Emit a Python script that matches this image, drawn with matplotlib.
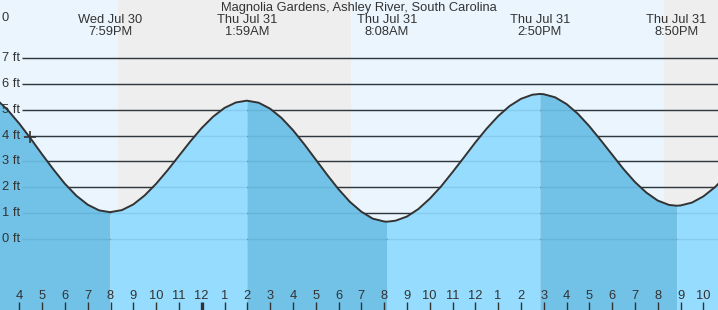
import numpy as np
import matplotlib
matplotlib.use("Agg")
from matplotlib import pyplot as plt
from matplotlib import transforms

# hours counted from midnight at the start of Wed Jul 30
hours = [15.0, 15.5, 16.0, 16.5, 17.0, 17.5, 18.0, 18.5, 19.0, 19.5, 19.98,
         20.5, 21.0, 21.5, 22.0, 22.5, 23.0, 23.5, 24.0, 24.5, 25.0, 25.5, 25.98,
         26.5, 27.0, 27.5, 28.0, 28.5, 29.0, 29.5, 30.0, 30.5, 31.0, 31.5, 32.0, 32.13,
         32.5, 33.0, 33.5, 34.0, 34.5, 35.0, 35.5, 36.0, 36.5, 37.0, 37.5, 38.0, 38.5, 38.83,
         39.0, 39.5, 40.0, 40.5, 41.0, 41.5, 42.0, 42.5, 43.0, 43.5, 44.0, 44.5, 44.83,
         45.0, 45.5, 46.0, 46.5, 47.0]
feet = [5.40, 4.98, 4.46, 3.88, 3.27, 2.68, 2.13, 1.67, 1.32, 1.10, 1.03,
        1.11, 1.33, 1.68, 2.13, 2.65, 3.21, 3.77, 4.29, 4.73, 5.07, 5.28, 5.35,
        5.27, 5.04, 4.68, 4.21, 3.66, 3.07, 2.48, 1.92, 1.43, 1.05, 0.78, 0.67, 0.66,
        0.70, 0.86, 1.15, 1.55, 2.03, 2.58, 3.15, 3.73, 4.27, 4.75, 5.14, 5.42, 5.58, 5.61,
        5.60, 5.48, 5.22, 4.84, 4.36, 3.82, 3.26, 2.70, 2.20, 1.79, 1.48, 1.31, 1.28,
        1.29, 1.40, 1.64, 1.99, 2.43]

# high / low tide events
event_hours = [19.98, 25.98, 32.13, 38.83, 44.83]
event_days = ['Wed Jul 30', 'Thu Jul 31', 'Thu Jul 31', 'Thu Jul 31', 'Thu Jul 31']
event_times = ['7:59PM', '1:59AM', '8:08AM', '2:50PM', '8:50PM']

# sunset / sunrise
sunset_1 = 20.33
sunrise = 30.55
sunset_2 = 44.28

tick_hours = list(range(16, 47))
tick_labels = ['4', '5', '6', '7', '8', '9', '10', '11', '12', '1', '2', '3', '4', '5',
               '6', '7', '8', '9', '10', '11', '12', '1', '2', '3', '4', '5', '6', '7',
               '8', '9', '10']
midnight = 24

ft_levels = [0, 1, 2, 3, 4, 5, 6, 7]
now_hour, now_ft = 16.47, 3.95

title = 'Magnolia Gardens, Ashley River, South Carolina'

plt.rcParams['font.family'] = ['Liberation Sans', 'DejaVu Sans']
txt = '#333333'
fs = 9.3

fig = plt.figure(figsize=(7.18, 3.10), dpi=100)
ax = fig.add_axes([0, 0, 1, 1])
x0, x1 = 15.153, 46.644
y0, y1 = -2.76, 9.25
ax.set_xlim(x0, x1)
ax.set_ylim(y0, y1)
ax.set_axis_off()

day_bg = '#ebf5fd'
night_bg = '#eeeeee'
ax.axvspan(x0, x1, color=day_bg, zorder=0, lw=0)
ax.axvspan(sunset_1, sunrise, color=night_bg, zorder=0, lw=0)
ax.axvspan(sunset_2, x1, color=night_bg, zorder=0, lw=0)

# horizontal foot lines
line_start = x0 + 22 / 22.8
ax.hlines(ft_levels, line_start, x1, color='#333333', lw=1.0, zorder=1)

# water, darker while falling, lighter while rising
h = np.array(hours)
f = np.array(feet)
cuts = [0] + [int(np.argmin(np.abs(h - e))) for e in event_hours] + [len(h) - 1]
fill_cols = ['#72c1e6', '#96dcfe']
for i in range(len(cuts) - 1):
    a, b = cuts[i], cuts[i + 1] + 1
    ax.fill_between(h[a:b], f[a:b], y0, color=fill_cols[i % 2], lw=0, zorder=2)

ax.hlines(ft_levels, line_start, x1, color='#1a5a80', lw=1.0, alpha=0.12, zorder=3)
ax.plot(h, f, color='#333333', lw=1.4, zorder=4)
ax.plot(now_hour, now_ft, marker='+', ms=9, mew=1.2, color='#333333', zorder=5)

for lv in ft_levels:
    ax.text(2 / 718, lv, f'{lv} ft', transform=transforms.blended_transform_factory(ax.transAxes, ax.transData),
            ha='left', va='center', fontsize=fs, color=txt, zorder=6)

top = transforms.blended_transform_factory(ax.transData, ax.transAxes)
for eh, d, t in zip(event_hours, event_days, event_times):
    ax.text(eh, 1 - 20 / 310, d, transform=top, ha='center', va='center', fontsize=fs, color=txt)
    ax.text(eh, 1 - 32 / 310, t, transform=top, ha='center', va='center', fontsize=fs, color=txt)

ax.text(0.5, 1 - 8 / 310, title, transform=ax.transAxes, ha='center', va='center', fontsize=fs, color=txt)
ax.text(2 / 718, 1 - 18 / 310, '0', transform=ax.transAxes, ha='left', va='center', fontsize=fs, color=txt)

# hour ticks along the bottom
for th, tl in zip(tick_hours, tick_labels):
    w = 2.4 if th == midnight else 1.0
    ax.vlines(th, 0, 8 / 310, transform=top, color='#333333', lw=w, zorder=6)
    ax.text(th, 14 / 310, tl, transform=top, ha='center', va='center', fontsize=fs, color=txt, zorder=6)

fig.savefig('out.png', dpi=100)
